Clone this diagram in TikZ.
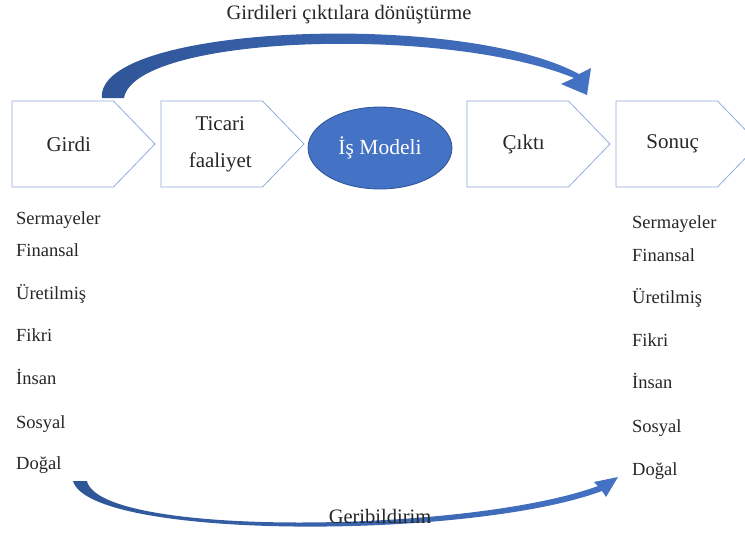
\documentclass[tikz,border=0pt]{standalone}
\usepackage{fontspec}
\setmainfont{Liberation Serif}
\usepackage{xcolor}
\usetikzlibrary{shapes,backgrounds,calc}
\definecolor{boxline}{HTML}{8FAADC}
\definecolor{officeblue}{HTML}{4472C4}
\definecolor{darkblue}{HTML}{2F5597}
\definecolor{txt}{HTML}{262626}

\begin{document}
\begin{tikzpicture}[x=1pt,y=-1pt]
        % Define the styles for the stages and the lists
        \tikzstyle{stage}=[draw=boxline, line width=0.8pt, shape=signal, signal to=east, signal pointer angle=92, minimum width=143pt, minimum height=86pt, inner sep=0pt, outer sep=0pt, anchor=west, font=\fontsize{21}{25}\selectfont, text=txt, execute at begin node={\hspace*{12pt}}];
        \tikzstyle{capital}=[anchor=mid west, inner sep=0pt, font=\fontsize{18.5}{22}\selectfont, text=txt];
        \tikzstyle{label}=[inner sep=1pt, font=\fontsize{20.5}{24}\selectfont, text=txt];
        \useasboundingbox (0,0) rectangle (745,536);

        % Transformation arrow on top
        \shade[left color=darkblue, right color=officeblue]
            (102,98) .. controls (95,25) and (460,10) .. (579,74)
            -- (591,68) -- (587,95) -- (561,84) -- (574,78)
            .. controls (445,25) and (135,35) .. (124,98) -- cycle;
        \node[label] (title) at (349,15) {Girdileri çıktılara dönüştürme};

        % Stages
        \node[stage] (girdi) at (12,144) {Girdi};
        \node[stage, align=center, execute at begin node={}] (ticari) at (161,144) {\hspace*{5pt}Ticari\\[12pt]\hspace*{5pt}faaliyet};
        \node[ellipse, fill=officeblue, draw=darkblue, line width=0.8pt, minimum width=144pt, minimum height=82pt, text=white, font=\fontsize{21.5}{25}\selectfont] (model) at (380,148) {İş Modeli};
        \node[stage] (cikti) at (467,144) {Çıktı};
        \node[stage] (sonuc) at (616,144) {Sonuç};

        % Capitals on both sides
        \foreach \cap/\ya/\yb [count=\i] in {Sermayeler/222/226, Finansal/254/259, Üretilmiş/297/301, Fikri/339/344, İnsan/382/386, Sosyal/426/430, Doğal/467/473}
        {
            \node[capital] (in\i) at (16,\ya) {\cap};
            \node[capital] (out\i) at (632,\yb) {\cap};
        }

        % Feedback arrow at the bottom
        \shade[left color=darkblue, right color=officeblue]
            (73,481) .. controls (90,540) and (470,540) .. (602,491)
            -- (606,497) -- (618,477) -- (594,482) -- (598,486)
            .. controls (470,533) and (100,538) .. (87,481) -- cycle;
        \node[label, anchor=base] (geri) at (380,523) {Geribildirim};
    \end{tikzpicture}
\end{document}
